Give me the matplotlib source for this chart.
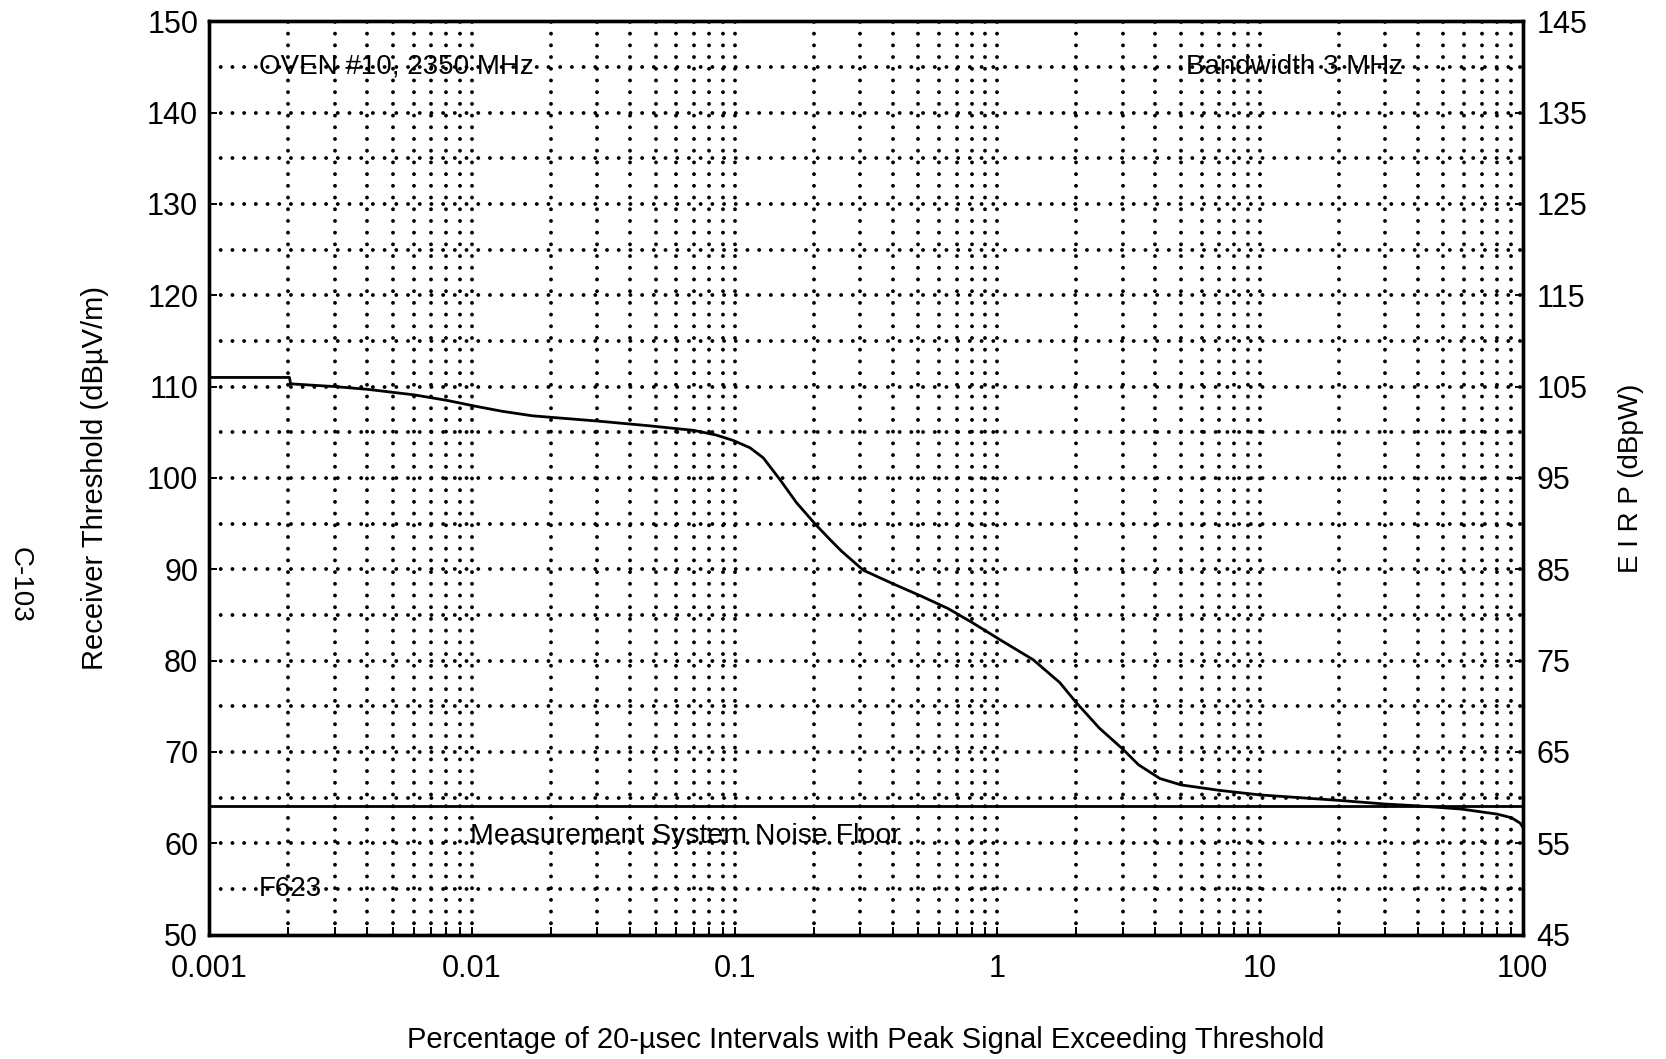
import matplotlib
matplotlib.use("Agg")
import matplotlib.pyplot as plt
import numpy as np

# ---- data ----
pct = [0.001, 0.00202, 0.00204, 0.003, 0.004, 0.006, 0.008, 0.0101, 0.013, 0.017,
       0.0308, 0.0476, 0.07, 0.085, 0.0989, 0.1145, 0.1286, 0.149, 0.172, 0.202,
       0.23, 0.255, 0.309, 0.402, 0.51, 0.65, 0.81, 1.023, 1.37, 1.73,
       2.0, 2.45, 3.01, 3.45, 4.16, 5.0, 7.0, 10.0, 20.0, 30.0,
       40.0, 58.5, 80.0, 90.8, 98.0, 100.0]
threshold = [111.0, 111.0, 110.3, 110.0, 109.7, 109.1, 108.5, 107.9, 107.3, 106.8,
             106.2, 105.7, 105.2, 104.7, 104.1, 103.3, 102.2, 99.8, 97.3, 95.0,
             93.3, 92.0, 89.9, 88.4, 87.1, 85.7, 84.1, 82.3, 80.1, 77.6,
             75.4, 72.6, 70.3, 68.6, 67.1, 66.4, 65.8, 65.3, 64.7, 64.3,
             64.1, 63.75, 63.2, 62.8, 62.2, 61.8]
noise_floor = 64.1

x_ticks = [0.001, 0.01, 0.1, 1, 10, 100]
x_tick_labels = ["0.001", "0.01", "0.1", "1", "10", "100"]
y_left_ticks = [50, 60, 70, 80, 90, 100, 110, 120, 130, 140, 150]
y_right_ticks = [45, 55, 65, 75, 85, 95, 105, 115, 125, 135, 145]
eirp_offset = -5

title_left = "OVEN #10, 2350 MHz"
title_right = "Bandwidth 3 MHz"
noise_label = "Measurement System Noise Floor"
fig_id = "F623"
page_id = "C-103"

plt.rcParams['font.family'] = ['Liberation Sans', 'DejaVu Sans']

fig = plt.figure(figsize=(16.66, 10.59), dpi=100)
ax = fig.add_axes([0.1256, 0.1174, 0.9139 - 0.1256, 0.980 - 0.1174])
ax.set_xscale('log')
ax.set_xlim(0.001, 100)
ax.set_ylim(50, 150)

# dotted grid
dot = (0, (0.01, 3.0))
gkw = dict(color='black', lw=2.8, ls=dot, dash_capstyle='round', zorder=1)
for dec in [0.001, 0.01, 0.1, 1, 10]:
    for m in range(2, 10):
        ax.axvline(dec * m, **gkw)
for d in [0.01, 0.1, 1, 10]:
    ax.axvline(d, **gkw)
for yv in np.arange(55, 150, 5):
    ax.axhline(yv, **gkw)

ax.plot(pct, threshold, color='black', lw=2.0, zorder=3)
ax.axhline(noise_floor, color='black', lw=2.0, zorder=3)

ax.set_xticks(x_ticks)
ax.set_xticklabels(x_tick_labels)
ax.set_yticks(y_left_ticks)
ax.tick_params(axis='both', which='major', direction='in', length=6, width=1.4, labelsize=22)
ax.tick_params(axis='x', which='minor', direction='in', length=6, width=1.4)
ax.tick_params(axis='x', which='major', pad=14)
ax.tick_params(axis='y', which='major', pad=8)
for s in ax.spines.values():
    s.set_linewidth(2.4)

ax.set_xlabel("Percentage of 20-µsec Intervals with Peak Signal Exceeding Threshold",
              fontsize=21, labelpad=30)
ax.set_ylabel("Receiver Threshold (dBµV/m)", fontsize=21, labelpad=27)

ax2 = ax.twinx()
ax2.set_ylim(50 + eirp_offset, 150 + eirp_offset)
ax2.set_yticks(y_right_ticks)
ax2.tick_params(axis='y', direction='in', length=6, width=1.4, labelsize=22, pad=10)
ax2.set_ylabel("E I R P (dBpW)", fontsize=20, labelpad=22)
for s in ax2.spines.values():
    s.set_linewidth(2.4)

ax.text(0.00155, 145, title_left, fontsize=20, va='center', ha='left', zorder=4)
ax.text(35, 145, title_right, fontsize=20, va='center', ha='right', zorder=4)
ax.text(0.0098, 60.8, noise_label, fontsize=20.5, va='center', ha='left', zorder=4)
ax.text(0.00155, 55, fig_id, fontsize=20, va='center', ha='left', zorder=4)

fig.text(0.012, 0.448, page_id, rotation=-90, fontsize=20, va='center', ha='center')

fig.savefig("out.png", dpi=100, facecolor='white')
